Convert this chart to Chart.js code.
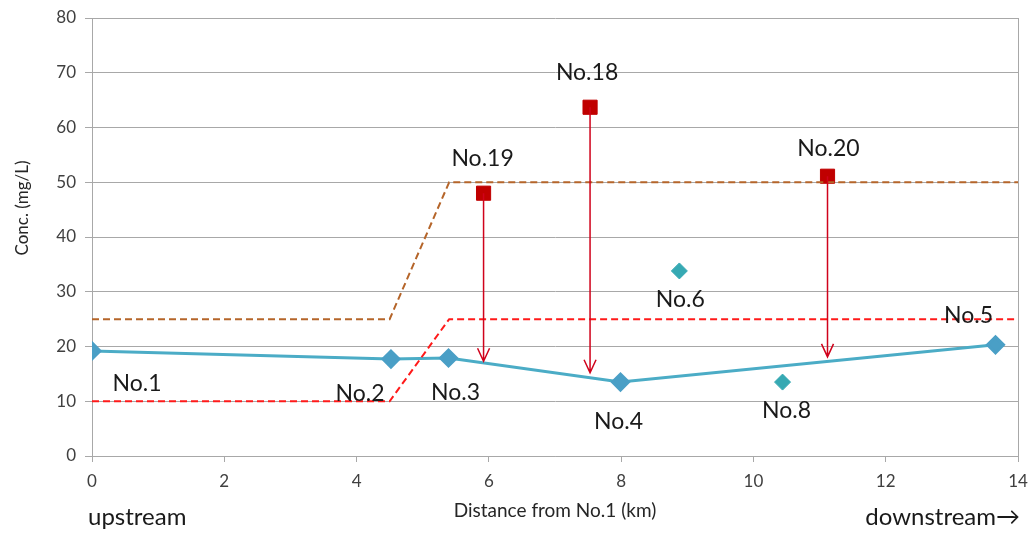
<!DOCTYPE html>
<html>
<head>
<meta charset="utf-8">
<script src="https://cdn.jsdelivr.net/npm/chart.js@4"></script>
<style>
  body { margin: 0; background: #fff; }
  #wrap { width: 1032px; height: 536px; }
</style>
</head>
<body>
<div id="wrap"><canvas id="c"></canvas></div>
<script>
// main river stations (connected line)
var mainNames = ['No.1', 'No.2', 'No.3', 'No.4', 'No.5'];
var mainDist = [0, 4.52, 5.39, 7.99, 13.66];
var mainConc = [19.2, 17.7, 17.9, 13.5, 20.3];

// other stations (no line)
var otherNames = ['No.6', 'No.8'];
var otherDist = [8.88, 10.44];
var otherConc = [33.8, 13.5];

// inflows (red squares) and where their arrows end
var inflowNames = ['No.19', 'No.18', 'No.20'];
var inflowDist = [5.92, 7.53, 11.12];
var inflowConc = [48.0, 63.7, 51.1];
var arrowTip = [17.3, 15.2, 18.1];

// standard lines
var stdDist = [0, 4.5, 5.4, 14];
var stdUpper = [25, 25, 50, 50];
var stdLower = [10, 10, 25, 25];

var xTicks = [0, 2, 4, 6, 8, 10, 12, 14];
var yTicks = [0, 10, 20, 30, 40, 50, 60, 70, 80];

function pts(xs, ys) {
  return xs.map(function (x, i) { return { x: x, y: ys[i] }; });
}

// label offsets in pixels from each point
var labelOffsets = {
  'No.1': [45, 33], 'No.2': [-31, 34], 'No.3': [7, 35], 'No.4': [-2, 39],
  'No.5': [-27, -29], 'No.6': [1, 29], 'No.8': [4, 28],
  'No.19': [-1, -35], 'No.18': [-3, -35], 'No.20': [1, -28]
};

var FONT = 'Lato, "Open Sans", sans-serif';

var extras = {
  id: 'extras',
  afterDatasetsDraw: function (chart) {
    var ctx = chart.ctx, xs = chart.scales.x, ys = chart.scales.y;
    var a = chart.chartArea;
    ctx.save();
    // right border of plot area
    ctx.strokeStyle = '#a8a8a8';
    ctx.lineWidth = 1;
    ctx.beginPath();
    ctx.moveTo(Math.round(a.right) + 0.5, a.top);
    ctx.lineTo(Math.round(a.right) + 0.5, a.bottom);
    ctx.stroke();

    // arrows
    ctx.strokeStyle = '#d0021b';
    ctx.lineWidth = 1.5;
    for (var i = 0; i < inflowDist.length; i++) {
      var px = xs.getPixelForValue(inflowDist[i]);
      var y0 = ys.getPixelForValue(inflowConc[i]);
      var y1 = ys.getPixelForValue(arrowTip[i]);
      ctx.beginPath();
      ctx.moveTo(px, y0);
      ctx.lineTo(px, y1);
      ctx.moveTo(px - 6, y1 - 13);
      ctx.lineTo(px, y1);
      ctx.lineTo(px + 6, y1 - 13);
      ctx.stroke();
    }

    // point labels
    ctx.fillStyle = '#1a1a1a';
    ctx.font = '23px ' + FONT;
    ctx.textAlign = 'center';
    ctx.textBaseline = 'middle';
    function lab(names, dx, dy) {
      names.forEach(function (n, j) {
        var o = labelOffsets[n];
        ctx.fillText(n, xs.getPixelForValue(dx[j]) + o[0], ys.getPixelForValue(dy[j]) + o[1]);
      });
    }
    lab(mainNames, mainDist, mainConc);
    lab(otherNames, otherDist, otherConc);
    lab(inflowNames, inflowDist, inflowConc);

    // upstream / downstream
    ctx.font = '24px ' + FONT;
    ctx.textAlign = 'left';
    ctx.fillText('upstream', a.left - 4, 517);
    ctx.textAlign = 'right';
    ctx.fillText('downstream\u2192', a.right + 2, 517);

    // y axis title
    ctx.font = '17px ' + FONT;
    ctx.fillStyle = '#262626';
    ctx.textAlign = 'center';
    ctx.translate(23, 208);
    ctx.rotate(-Math.PI / 2);
    ctx.fillText('Conc. (mg/L)', 0, 0);
    ctx.restore();
  }
};

new Chart(document.getElementById('c'), {
  type: 'scatter',
  data: {
    datasets: [
      {
        data: pts(stdDist, stdUpper), showLine: true, borderColor: '#b5652a',
        borderWidth: 2, borderDash: [7, 4], pointRadius: 0, fill: false
      },
      {
        data: pts(stdDist, stdLower), showLine: true, borderColor: '#ff1a1a',
        borderWidth: 2, borderDash: [7, 4], pointRadius: 0, fill: false
      },
      {
        data: pts(mainDist, mainConc), showLine: true, borderColor: '#4bacc6',
        borderWidth: 3, pointStyle: 'rectRot', pointRadius: 8,
        pointBackgroundColor: '#4a9fc6', pointBorderColor: '#4a9fc6'
      },
      {
        data: pts(otherDist, otherConc), showLine: false, pointStyle: 'rectRot',
        pointRadius: 8, pointBackgroundColor: '#36a9b3', pointBorderColor: '#36a9b3'
      },
      {
        data: pts(inflowDist, inflowConc), showLine: false, pointStyle: 'rect',
        pointRadius: 10, pointBackgroundColor: '#c00000', pointBorderColor: '#c00000'
      }
    ]
  },
  options: {
    responsive: true,
    maintainAspectRatio: false,
    animation: false,
    layout: { padding: { top: 18, right: 14, left: 0, bottom: 0 } },
    plugins: { legend: { display: false }, tooltip: { enabled: false } },
    scales: {
      x: {
        type: 'linear', min: 0, max: 14,
        afterBuildTicks: function (s) { s.ticks = xTicks.map(function (v) { return { value: v }; }); },
        afterFit: function (s) { s.height = 80; s.paddingRight = 0; s.paddingLeft = 0; },
        grid: { drawOnChartArea: false, tickLength: 6, color: '#a8a8a8' },
        border: { color: '#a8a8a8' },
        ticks: { color: '#404040', padding: 9, font: { size: 17, family: FONT } },
        title: {
          display: true, text: 'Distance from No.1 (km)', color: '#262626',
          font: { size: 19, family: FONT }, padding: { top: 0, bottom: 14 }
        }
      },
      y: {
        min: 0, max: 80,
        afterBuildTicks: function (s) { s.ticks = yTicks.map(function (v) { return { value: v }; }); },
        afterFit: function (s) { s.width = 92; s.paddingTop = 0; s.paddingBottom = 0; },
        grid: { color: '#a8a8a8', tickLength: 7 },
        border: { color: '#a8a8a8' },
        ticks: { color: '#404040', padding: 9, font: { size: 17, family: FONT } }
      }
    }
  },
  plugins: [extras]
});
</script>
</body>
</html>
